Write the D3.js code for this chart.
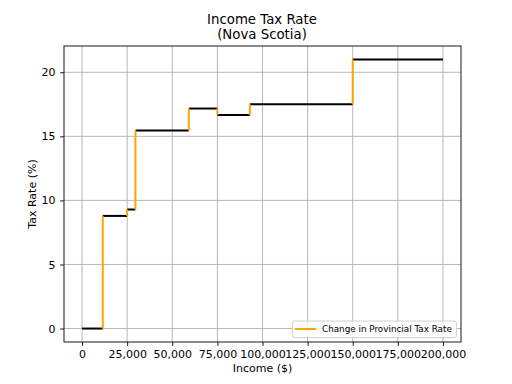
<!DOCTYPE html>
<html>
  <head>
    <meta charset="utf-8">
    <script src="https://d3js.org/d3.v7.min.js"></script>
    <style>
      body { margin: 0; background: #fff; }
      svg { font-family: "DejaVu Sans", sans-serif; }
    </style>
  </head>
  <body>
    <div id="vis"></div>
    <script>
      // bracket edges (income $) and the rate that applies inside each bracket
      const bracketStart = [0, 11481, 25000, 29590, 59180, 75000, 93000, 150000];
      const bracketEnd = [11481, 25000, 29590, 59180, 75000, 93000, 150000, 200000];
      const rates = [0, 8.79, 9.29, 15.45, 17.17, 16.67, 17.5, 21];
      const xTicks = [0, 25000, 50000, 75000, 100000, 125000, 150000, 175000, 200000];
      const yTicks = [0, 5, 10, 15, 20];

      const width = 512, height = 384;
      const margin = { left: 64, right: 51, top: 46, bottom: 42 };

      const svg = d3.select("#vis").append("svg")
        .attr("width", width).attr("height", height);

      const x = d3.scaleLinear().domain([-10000, 210000])
        .range([margin.left, width - margin.right]);
      const y = d3.scaleLinear().domain([-1.05, 22.05])
        .range([height - margin.bottom, margin.top]);

      // grid
      svg.append("g").selectAll("line").data(xTicks).join("line")
        .attr("x1", d => x(d)).attr("x2", d => x(d))
        .attr("y1", margin.top).attr("y2", height - margin.bottom)
        .attr("stroke", "#b0b0b0").attr("stroke-width", 0.9);
      svg.append("g").selectAll("line").data(yTicks).join("line")
        .attr("y1", d => y(d)).attr("y2", d => y(d))
        .attr("x1", margin.left).attr("x2", width - margin.right)
        .attr("stroke", "#b0b0b0").attr("stroke-width", 0.9);

      // horizontal segments (black)
      const segs = rates.map((r, i) => ({ x0: bracketStart[i], x1: bracketEnd[i], r: r }));
      svg.append("g").selectAll("line").data(segs).join("line")
        .attr("x1", d => x(d.x0)).attr("x2", d => x(d.x1))
        .attr("y1", d => y(d.r)).attr("y2", d => y(d.r))
        .attr("stroke", "black").attr("stroke-width", 2);

      // vertical changes (orange)
      const steps = rates.slice(1).map((r, i) => ({ at: bracketStart[i + 1], from: rates[i], to: r }));
      svg.append("g").selectAll("line").data(steps).join("line")
        .attr("x1", d => x(d.at)).attr("x2", d => x(d.at))
        .attr("y1", d => y(d.from)).attr("y2", d => y(d.to))
        .attr("stroke", "orange").attr("stroke-width", 2);

      // axes
      const xAxis = svg.append("g")
        .attr("transform", `translate(0,${height - margin.bottom})`)
        .call(d3.axisBottom(x).tickValues(xTicks).tickFormat(d3.format(",")).tickSizeOuter(0).tickSize(3.9).tickPadding(4.5));
      const yAxis = svg.append("g")
        .attr("transform", `translate(${margin.left},0)`)
        .call(d3.axisLeft(y).tickValues(yTicks).tickSizeOuter(0).tickSize(3.9).tickPadding(4.5));
      [xAxis, yAxis].forEach(g => {
        g.select(".domain").remove();
        g.selectAll("text").attr("font-family", "DejaVu Sans").attr("font-size", 11).attr("fill", "black");
        g.selectAll("line").attr("stroke", "black").attr("stroke-width", 0.9);
      });

      // frame
      svg.append("rect")
        .attr("x", margin.left).attr("y", margin.top)
        .attr("width", width - margin.left - margin.right)
        .attr("height", height - margin.top - margin.bottom)
        .attr("fill", "none").attr("stroke", "black").attr("stroke-width", 0.9);

      // titles
      svg.append("text").attr("x", 262).attr("y", 24).attr("text-anchor", "middle")
        .attr("font-size", 13.3).text("Income Tax Rate");
      svg.append("text").attr("x", 262).attr("y", 39).attr("text-anchor", "middle")
        .attr("font-size", 13.3).text("(Nova Scotia)");
      svg.append("text").attr("x", x(100000)).attr("y", 372).attr("text-anchor", "middle")
        .attr("font-size", 11).text("Income ($)");
      svg.append("text").attr("transform", `translate(36,${y(10.5)}) rotate(-90)`)
        .attr("text-anchor", "middle").attr("font-size", 11).text("Tax Rate (%)");

      // legend
      const lg = svg.append("g");
      lg.append("rect").attr("x", 292.5).attr("y", 321).attr("width", 164).attr("height", 16.5)
        .attr("rx", 2).attr("fill", "white").attr("fill-opacity", 0.8)
        .attr("stroke", "#cccccc").attr("stroke-width", 0.9);
      lg.append("line").attr("x1", 295).attr("x2", 316).attr("y1", 329).attr("y2", 329)
        .attr("stroke", "orange").attr("stroke-width", 2);
      lg.append("text").attr("x", 322).attr("y", 332.2).attr("font-size", 8.8)
        .text("Change in Provincial Tax Rate");
    </script>
  </body>
</html>
